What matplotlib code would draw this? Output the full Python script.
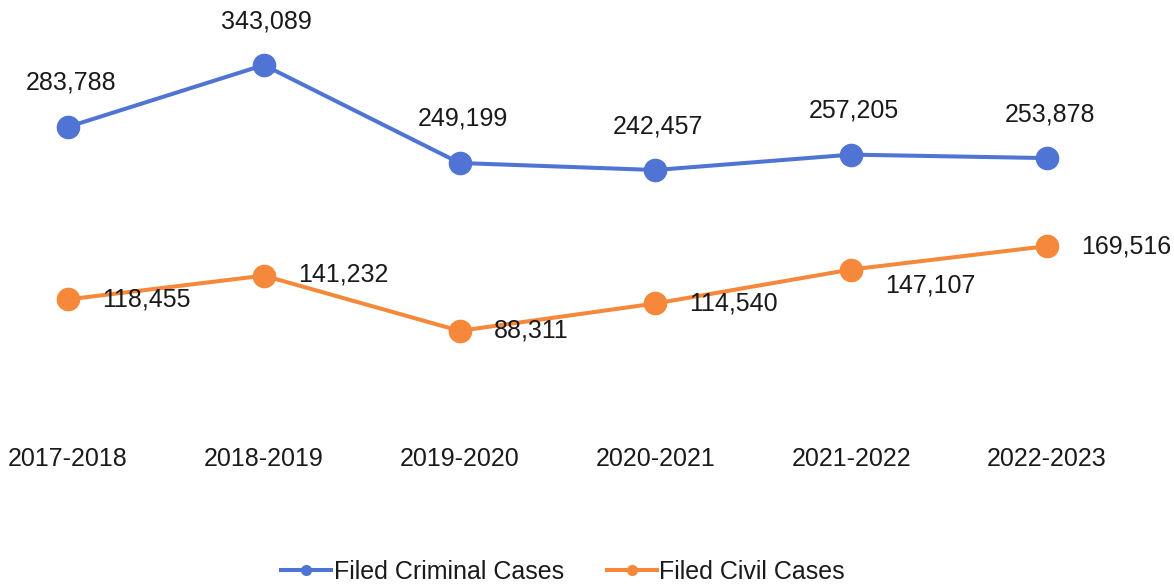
import matplotlib.pyplot as plt
from matplotlib.lines import Line2D

plt.rcParams["font.family"] = ["Liberation Sans", "DejaVu Sans"]

years = ["2017-2018", "2018-2019", "2019-2020", "2020-2021", "2021-2022", "2022-2023"]
criminal = [283788, 343089, 249199, 242457, 257205, 253878]
civil = [118455, 141232, 88311, 114540, 147107, 169516]

BLUE = "#4f74d4"
ORANGE = "#f5883a"
TXT = "#1a1a1a"
FS = 18

fig = plt.figure(figsize=(11.74, 5.87), dpi=100)
ax = fig.add_axes([0, 1 - 423 / 587, 1, 423 / 587])

x = list(range(len(years)))
ax.plot(x, criminal, color=BLUE, lw=2.9, marker="o", ms=16, zorder=3)
ax.plot(x, civil, color=ORANGE, lw=2.9, marker="o", ms=16, zorder=3)

for i, v in enumerate(criminal):
    ax.annotate(f"{v:,}", (i, v), xytext=(3, 44), textcoords="offset pixels",
                ha="center", va="center", fontsize=FS, color=TXT, zorder=5)

civil_dy = [0, 1, 0, 0, -16, 0]
for i, v in enumerate(civil):
    ax.annotate(f"{v:,}", (i, v), xytext=(34, civil_dy[i]), textcoords="offset pixels",
                ha="left", va="center", fontsize=FS, color=TXT, zorder=5)

ax.set_xlim(-68 / 195.8, 5 + 127 / 195.8)
ax.set_ylim(0, 405400)
ax.set_xticks(x)
ax.set_xticklabels(years, fontsize=FS, color=TXT)
ax.tick_params(axis="x", length=0, pad=17)
ax.set_yticks([])
for s in ax.spines.values():
    s.set_visible(False)

handles = [
    Line2D([], [], color=BLUE, lw=2.9, marker="o", ms=7),
    Line2D([], [], color=ORANGE, lw=2.9, marker="o", ms=7),
]
fig.legend(handles, ["Filed Criminal Cases", "Filed Civil Cases"], loc="center",
           bbox_to_anchor=(563 / 1174, 1 - 572 / 587), ncol=2, frameon=False,
           fontsize=FS, handlelength=2.0, handletextpad=0.1, columnspacing=1.7,
           labelcolor=TXT)

fig.savefig("out.png", dpi=100)
